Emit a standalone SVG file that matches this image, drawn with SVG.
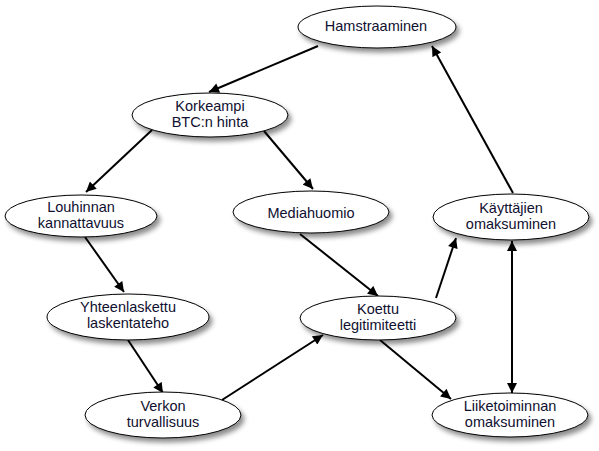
<svg xmlns="http://www.w3.org/2000/svg" width="599" height="451" viewBox="0 0 599 451">
<style>
.n ellipse{fill:#fff;stroke:#000;stroke-width:1;filter:url(#sh)}
.n text{font-family:"Liberation Sans",Arial,sans-serif;font-size:14.5px;fill:#101030;text-anchor:middle}
.e line{stroke:#000;stroke-width:2;marker-end:url(#ah)}
</style>
<defs>
<filter id="sh" x="-20%" y="-30%" width="140%" height="170%">
<feDropShadow dx="3" dy="4" stdDeviation="2.5" flood-color="#000" flood-opacity="0.45"/>
</filter>
<marker id="ah" viewBox="0 0 10 10" refX="10" refY="5" markerWidth="5.5" markerHeight="5" markerUnits="strokeWidth" orient="auto-start-reverse">
<path d="M0,0 L10,5 L0,10 Z" fill="#000"/>
</marker>
</defs>
<rect width="599" height="451" fill="#fff"/>
<g class="e" id="connectors">
<line x1="318" y1="46" x2="209" y2="92"/>
<line x1="152" y1="130" x2="86" y2="192"/>
<line x1="264" y1="131" x2="313" y2="189"/>
<line x1="85" y1="237" x2="124" y2="292"/>
<line x1="128" y1="340" x2="163" y2="393"/>
<line x1="222" y1="400" x2="323" y2="335"/>
<line x1="300" y1="234" x2="378" y2="296"/>
<line x1="436" y1="298" x2="456" y2="238"/>
<line x1="513" y1="193" x2="432" y2="46"/>
<line x1="512" y1="393" x2="512" y2="241" style="marker-start:url(#ah)"/>
<line x1="380" y1="340" x2="451" y2="399"/>
</g>
<g class="n" id="hamstraaminen"><ellipse cx="377" cy="27" rx="79" ry="21"/><text x="376" y="31">Hamstraaminen</text></g>
<g class="n" id="korkeampi"><ellipse cx="210" cy="115" rx="78" ry="22"/><text x="210" y="111">Korkeampi</text><text x="210" y="127">BTC:n hinta</text></g>
<g class="n" id="louhinnan"><ellipse cx="81" cy="216" rx="76" ry="21"/><text x="81" y="212">Louhinnan</text><text x="81" y="228">kannattavuus</text></g>
<g class="n" id="mediahuomio"><ellipse cx="311" cy="212" rx="78" ry="21"/><text x="311" y="218">Mediahuomio</text></g>
<g class="n" id="kayttajien"><ellipse cx="511" cy="217" rx="78" ry="23"/><text x="511" y="213">Käyttäjien</text><text x="511" y="229">omaksuminen</text></g>
<g class="n" id="yhteenlaskettu"><ellipse cx="128" cy="317" rx="81" ry="23"/><text x="128" y="312">Yhteenlaskettu</text><text x="128" y="328">laskentateho</text></g>
<g class="n" id="koettu"><ellipse cx="378" cy="318" rx="78" ry="22"/><text x="378" y="314">Koettu</text><text x="378" y="330">legitimiteetti</text></g>
<g class="n" id="verkon"><ellipse cx="163" cy="415" rx="78" ry="23"/><text x="163" y="411">Verkon</text><text x="163" y="427">turvallisuus</text></g>
<g class="n" id="liiketoiminnan"><ellipse cx="510" cy="415" rx="78" ry="22"/><text x="510" y="411">Liiketoiminnan</text><text x="510" y="427">omaksuminen</text></g>
</svg>
